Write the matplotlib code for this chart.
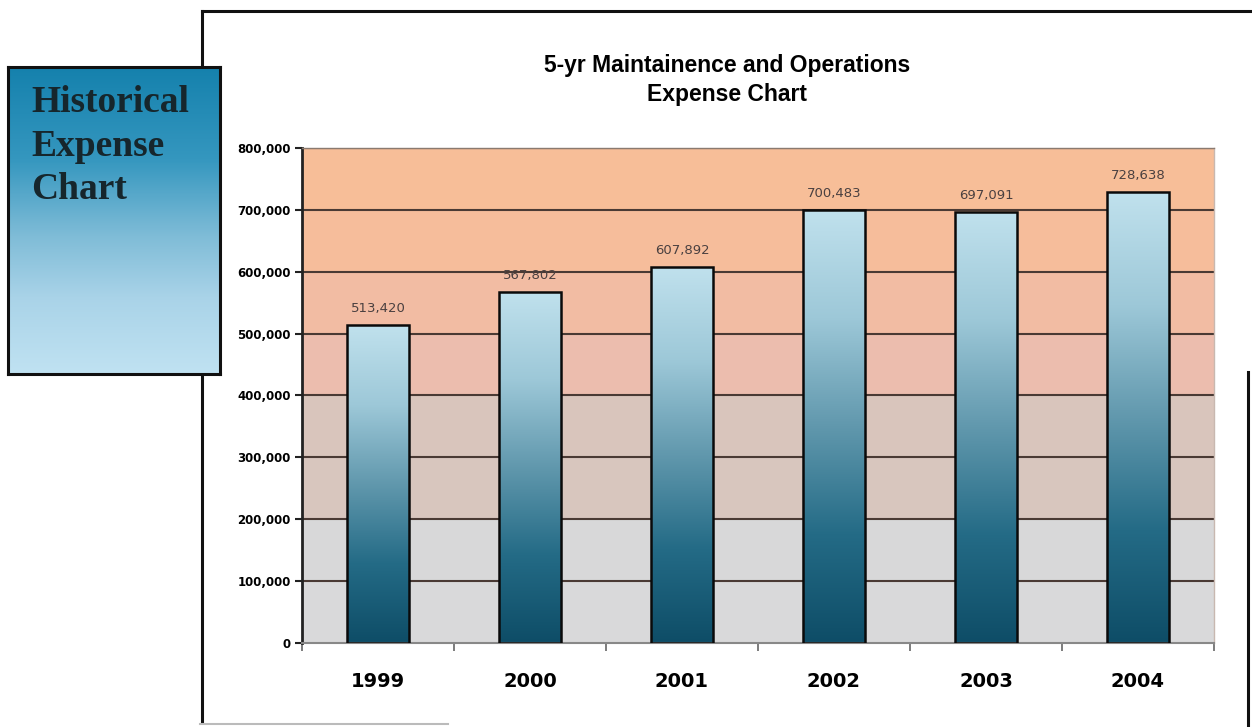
import numpy as np
import matplotlib.pyplot as plt
from matplotlib.colors import LinearSegmentedColormap, ListedColormap
from matplotlib.lines import Line2D

years = ['1999', '2000', '2001', '2002', '2003', '2004']
expenses = [513420, 567802, 607892, 700483, 697091, 728638]
y_ticks = [0, 100000, 200000, 300000, 400000, 500000, 600000, 700000, 800000]

# fill of each 100,000 band, bottom to top
band_colors = ['#d9d9da', '#d8d8d9', '#d8c6be', '#d9c5bc',
               '#ecbdae', '#f2bca3', '#f6bd9b', '#f7be98']

W, H = 1252, 727
fig = plt.figure(figsize=(W / 100, H / 100), dpi=100)
fig.patch.set_facecolor('white')

# outer chart frame
frame_kw = dict(color='#111111', lw=2.2, transform=fig.transFigure, zorder=1)
fig.add_artist(Line2D([202 / W, 1252 / W], [1 - 11 / H, 1 - 11 / H], **frame_kw))
fig.add_artist(Line2D([202 / W, 202 / W], [1 - 11 / H, 1 - 722 / H], **frame_kw))
fig.add_artist(Line2D([1248 / W, 1248 / W], [1 - 372 / H, 0], **frame_kw))
fig.add_artist(Line2D([200 / W, 448 / W], [1 - 724 / H, 1 - 724 / H],
                      color='#bbbbbb', lw=1.5, transform=fig.transFigure, zorder=1))

# side caption box, sits on top of the frame
box = fig.add_axes([8 / W, 1 - 374 / H, 212 / W, 307 / H], zorder=5)
box_cmap = LinearSegmentedColormap.from_list(
    'box', [(0.0, '#1581ad'), (0.3, '#3597bf'), (0.55, '#7fbcd7'),
            (0.75, '#a9d3e8'), (1.0, '#c0e2f2')])
box.imshow(np.linspace(0, 1, 256).reshape(-1, 1), cmap=box_cmap, aspect='auto',
           extent=[0, 1, 0, 1])
box.set_xlim(0, 1)
box.set_ylim(0, 1)
box.set_xticks([])
box.set_yticks([])
for s in box.spines.values():
    s.set_linewidth(2.2)
    s.set_color('#111111')
box.text(0.11, 0.94, 'Historical\nExpense\nChart', family='Liberation Serif',
         fontweight='bold', fontsize=27, color='#16262c', va='top', ha='left',
         linespacing=1.3)

# main plot
ax = fig.add_axes([302 / W, 1 - 643 / H, 912 / W, 495 / H], zorder=2)
x = np.arange(len(years))
n = len(years)

ax.imshow(np.arange(len(band_colors)).reshape(-1, 1), cmap=ListedColormap(band_colors),
          aspect='auto', origin='lower', interpolation='nearest',
          extent=[-0.5, n - 0.5, 0, 800000], zorder=0)

for t in y_ticks[1:]:
    ax.axhline(t, color='#4a3a34', lw=1.5, zorder=1)

bar_cmap = LinearSegmentedColormap.from_list(
    'bar', ['#0e4d67', '#246b86', '#6198ad', '#9dc8d8', '#c0e1ed'])
bars = ax.bar(x, expenses, width=0.41, facecolor='none', edgecolor='#0a0a0a',
              lw=1.8, zorder=3)
for b, v in zip(bars, expenses):
    x0 = b.get_x()
    im = ax.imshow(np.linspace(0, 1, 256).reshape(-1, 1), cmap=bar_cmap,
                   aspect='auto', origin='lower',
                   extent=[x0, x0 + b.get_width(), 0, v], zorder=2)
    im.set_clip_path(b)
    ax.text(b.get_x() + b.get_width() / 2, v + 16000, f'{v:,}', ha='center',
            va='bottom', fontsize=9.5, color='#4a4040', zorder=4)

ax.set_xlim(-0.5, n - 0.5)
ax.set_ylim(0, 800000)

ax.set_yticks(y_ticks)
ax.set_yticklabels([f'{t:,}' for t in y_ticks], fontsize=8.5, fontweight='bold')
ax.tick_params(axis='y', length=5, width=1.5, color='#222222', pad=3)

ax.set_xticks(x)
ax.set_xticklabels(years, fontsize=14, fontweight='bold')
ax.tick_params(axis='x', which='major', length=0, pad=21)
ax.set_xticks(np.arange(-0.5, n), minor=True)
ax.tick_params(axis='x', which='minor', length=6, width=1.2, color='#666666')

ax.spines['left'].set_color('#222222')
ax.spines['left'].set_linewidth(2)
ax.spines['bottom'].set_color('#888888')
ax.spines['bottom'].set_linewidth(1.5)
ax.spines['top'].set_color('#8a7a70')
ax.spines['top'].set_linewidth(1)
ax.spines['right'].set_color('#c8b8b0')
ax.spines['right'].set_linewidth(1)

fig.text(727 / W, 1 - 80 / H, '5-yr Maintainence and Operations\nExpense Chart',
         ha='center', va='center', fontsize=16.5, fontweight='bold',
         family='Liberation Sans', linespacing=1.3)

fig.savefig('out.png', dpi=100)
